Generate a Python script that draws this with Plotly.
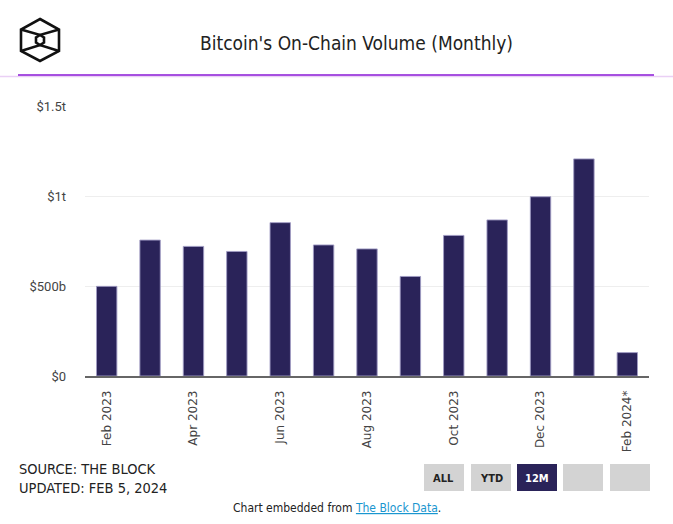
import plotly.graph_objects as go

months = ["Feb 2023", "Mar 2023", "Apr 2023", "May 2023", "Jun 2023", "Jul 2023",
          "Aug 2023", "Sep 2023", "Oct 2023", "Nov 2023", "Dec 2023", "Jan 2024", "Feb 2024*"]
volume_trillions = [0.498, 0.755, 0.720, 0.692, 0.852, 0.728, 0.706, 0.553, 0.781,
                    0.867, 0.996, 1.206, 0.130]
tick_values = [0, 0.5e12, 1.0e12, 1.5e12]
tick_labels = ["$0", "$500b", "$1t", "$1.5t"]
shown_months = months[::2]
buttons = ["ALL", "YTD", "12M", "", ""]

W, H = 673, 524
L, R, T, B = 85, 649, 106, 376
NARROW = "Liberation Sans Narrow, DejaVu Sans Condensed, Arial"


def px(x):
    return (x - L) / (R - L)


def py(y):
    return (B - y) / (B - T)


fig = go.Figure()
fig.add_trace(go.Bar(
    x=months,
    y=[v * 1e12 for v in volume_trillions],
    marker=dict(color="#2a2359", line=dict(color="rgba(160,155,195,0.9)", width=1)),
    hoverinfo="x+y",
))

shapes = []
shapes.append(dict(type="line", xref="paper", yref="paper", x0=px(0), x1=px(673), y0=py(76.5), y1=py(76.5),
                   line=dict(color="#ead0f5", width=1.5)))
shapes.append(dict(type="line", xref="paper", yref="paper", x0=px(18), x1=px(654), y0=py(75), y1=py(75),
                   line=dict(color="#8a17d6", width=1.5)))


def path(points, close=True):
    s = "M " + " L ".join(f"{px(a)},{py(b)}" for a, b in points)
    return s + (" Z" if close else "")


hexa = [(40, 19), (59, 29.5), (59, 51), (40, 61), (21, 51), (21, 29.5)]
inner = [(40, 35), (44, 37.5), (44, 42.5), (40, 45), (36, 42.5), (36, 37.5)]
logo_line = dict(color="#111111", width=2.6)
shapes.append(dict(type="path", xref="paper", yref="paper", path=path(hexa), line=logo_line))
shapes.append(dict(type="path", xref="paper", yref="paper", path=path(inner), line=logo_line))
shapes.append(dict(type="path", xref="paper", yref="paper", path=path([(21, 29.5), (40, 35), (59, 29.5)], False), line=logo_line))
shapes.append(dict(type="path", xref="paper", yref="paper", path=path([(21, 51), (40, 45), (59, 51)], False), line=logo_line))

annotations = []
bx = [424, 471, 517, 563, 610]
for i, label in enumerate(buttons):
    active = label == "12M"
    shapes.append(dict(type="rect", xref="paper", yref="paper", x0=px(bx[i]), x1=px(bx[i] + 40),
                       y0=py(464), y1=py(491), fillcolor="#2a2359" if active else "#d3d3d3",
                       line=dict(width=0)))
    if label:
        annotations.append(dict(text=f"<b>{label}</b>", xref="paper", yref="paper",
                                x=px(bx[i] + 20), y=py(478), xanchor="center", yanchor="middle",
                                showarrow=False,
                                font=dict(family="DejaVu Sans Condensed, Arial", size=11,
                                          color="#ffffff" if active else "#222222")))

annotations.append(dict(text="Bitcoin's On-Chain Volume (Monthly)", xref="paper", yref="paper",
                        x=px(356), y=py(43), xanchor="center", yanchor="middle", showarrow=False,
                        font=dict(family=NARROW, size=19, color="#222222")))
annotations.append(dict(text="SOURCE: THE BLOCK<br>UPDATED: FEB 5, 2024", xref="paper", yref="paper",
                        x=px(17), y=py(478), xanchor="left", yanchor="middle", align="left", showarrow=False,
                        font=dict(family=NARROW, size=14.5, color="#222222")))
annotations.append(dict(text="Chart embedded from <span style='color:#1a96cf'><u>The Block Data</u></span>.",
                        xref="paper", yref="paper", x=px(337), y=py(508), xanchor="center", yanchor="middle",
                        showarrow=False, font=dict(family=NARROW, size=12, color="#222222")))

fig.update_layout(
    width=W, height=H,
    margin=dict(l=L, r=W - R, t=T, b=H - B, pad=0),
    paper_bgcolor="white", plot_bgcolor="white",
    showlegend=False,
    bargap=0.53,
    shapes=shapes,
    annotations=annotations,
    xaxis=dict(
        type="category", tickmode="array", tickvals=shown_months, ticktext=shown_months,
        tickangle=-90, showgrid=False, showline=True, linecolor="#666666", linewidth=1.5,
        ticks="", ticklabelstandoff=8,
        tickfont=dict(family="DejaVu Sans, Verdana", size=12, color="#444444"),
        fixedrange=True,
    ),
    yaxis=dict(
        range=[0, 1.5e12], tickvals=tick_values, ticktext=tick_labels,
        showgrid=True, gridcolor="#eeeeee", gridwidth=1, zeroline=False, showline=False,
        ticks="", ticklabelstandoff=18,
        tickfont=dict(family="Roboto, Arial", size=13, color="#444444"),
        fixedrange=True,
    ),
)

fig.write_html("out.html", config=dict(displayModeBar=False),
               post_script="document.body.style.margin='0';document.body.style.overflow='hidden';")
